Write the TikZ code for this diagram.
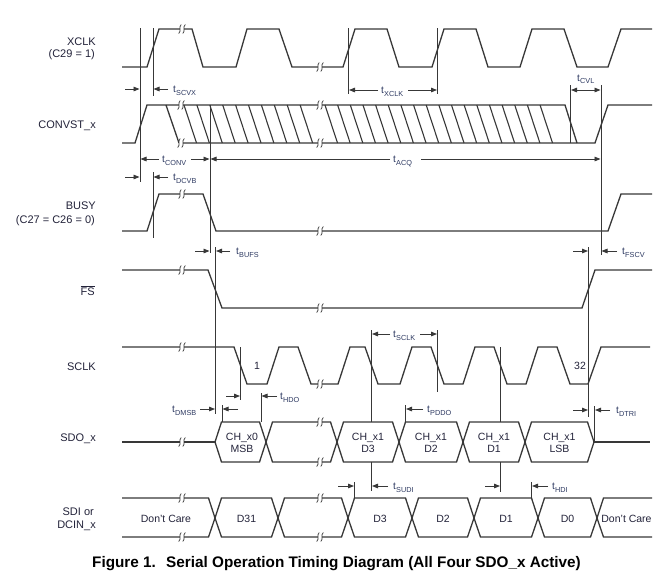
\documentclass[tikz,border=0pt]{standalone}
\usepackage{fontspec}
\setmainfont{Liberation Sans}
\usetikzlibrary{arrows.meta}
\definecolor{wave}{HTML}{383838}
\definecolor{txt}{HTML}{23233A}
\definecolor{tlab}{HTML}{2E3A62}
\tikzset{
 wf/.style={draw=wave, line width=1.3pt, line join=miter},
 hatch/.style={draw=wave, line width=1.1pt},
 guide/.style={draw=wave, line width=0.9pt},
 dim/.style={draw=wave, line width=0.8pt},
 ar/.style={dim, -{Triangle[length=6pt,width=4.6pt]}},
 sig/.style={text=txt, font=\fontsize{11}{13}\selectfont, inner sep=0pt, anchor=base east},
 celltxt/.style={text=txt, font=\fontsize{10.5}{12.5}\selectfont, inner sep=0pt, anchor=base},
 tlb/.style={text=tlab, font=\fontsize{10}{12}\selectfont, inner sep=0pt, anchor=base west},
 brkline/.style={draw=wave, line width=0.7pt},
}
\newcommand\tsub[1]{t\kern0.2pt\raisebox{-2.6pt}{\fontsize{7.3}{8}\selectfont #1}}
\newcommand\brkm[2]{%
 \fill[white] (#1-1.6,#2-3.6) rectangle (#1+1.6,#2+3.6);
 \draw[brkline] (#1-3.3,#2+4.5) .. controls (#1-0.4,#2+2) and (#1-3.6,#2-2) .. (#1-0.8,#2-4.5);
 \draw[brkline] (#1+0.8,#2+4.5) .. controls (#1+3.6,#2+2) and (#1+0.4,#2-2) .. (#1+3.3,#2-4.5);
}
\newcommand\hexcell[5]{\draw[wf] (#1,#4) -- (#1+6.5,#3) -- (#2-6.5,#3) -- (#2,#4) -- (#2-6.5,#5) -- (#1+6.5,#5) -- cycle;}
\begin{document}
\begin{tikzpicture}[x=1pt,y=-1pt]
\useasboundingbox (0,0) rectangle (667,582);
\fill[white] (0,0) rectangle (667,582);

% ---------- signal names
\node[sig] (lxclk) at (96,45.5) {XCLK};
\node[sig] (lc29) at (95,57.5) {(C29 = 1)};
\node[sig] (lconv) at (96,128) {CONVST\_x};
\node[sig] (lbusy) at (96,209) {BUSY};
\node[sig] (lc27) at (95,223) {(C27 = C26 = 0)};
\node[sig] (lfs) at (95,295) {$\overline{\mbox{FS}}$};
\node[sig] (lsclk) at (96,370) {SCLK};
\node[sig] (lsdo) at (96,441) {SDO\_x};
\node[sig] (lsdi1) at (94,515) {SDI or};
\node[sig] (lsdi2) at (96,528) {DCIN\_x};

% ---------- XCLK
\draw[wf] (122,67) -- (147,67) -- (159,29) -- (192,29) -- (203,67) -- (236,67) -- (247,29) -- (279,29) -- (292,67) -- (343,67) -- (355,29) -- (387,29) -- (399,67) -- (432,67) -- (444,29) -- (476,29) -- (488,67) -- (520,67) -- (532,29) -- (564,29) -- (577,67) -- (608,67) -- (621,29) -- (652,29);

% ---------- CONVST_x
\draw[wf] (122,143) -- (135,143) -- (147,105) -- (565,105) -- (577,143);
\draw[wf] (166,105) -- (179,143);
\draw[wf] (180,143) -- (595,143) -- (608,105) -- (652,105);
\foreach \k in {0,...,9} {\draw[hatch] ({184+12.9*\k},105) -- ({196.5+12.9*\k},143);}
\foreach \k in {0,...,17} {\draw[hatch] ({325+12.65*\k},105) -- ({337.5+12.65*\k},143);}

% ---------- BUSY
\draw[wf] (122,231) -- (147,231) -- (159,194) -- (203,194) -- (216,231) -- (608,231) -- (621,194) -- (652,194);

% ---------- FS
\draw[wf] (122,270) -- (208,270) -- (222,308) -- (582,308) -- (595,270) -- (652,270);

% ---------- SCLK
\draw[wf] (122,347) -- (234,347) -- (247,384) -- (267,384) -- (279,347) -- (298,347) -- (311,384) -- (338,384) -- (350,347) -- (365,347) -- (378,384) -- (400,384) -- (412,347) -- (431,347) -- (444,384) -- (463,384) -- (475,347) -- (494,347) -- (507,384) -- (526,384) -- (538,347) -- (557,347) -- (570,384) -- (588,384) -- (601,347) -- (650,347);
\node[celltxt] (n1) at (257,369) {1};
\node[celltxt] (n32) at (580,369) {32};

% ---------- SDO_x
\draw[wf] (122,442) -- (215,442);
\hexcell{215}{266}{422}{442}{462}
\hexcell{266}{337}{422}{442}{462}
\hexcell{337}{399}{422}{442}{462}
\hexcell{399}{463}{422}{442}{462}
\hexcell{463}{525}{422}{442}{462}
\hexcell{525}{594}{422}{442}{462}
\draw[wf] (594,442) -- (650,442);
\node[celltxt] (s0a) at (242,440.5) {CH\_x0};
\node[celltxt] (s0b) at (242,452.7) {MSB};
\node[celltxt] (s1a) at (368,440.5) {CH\_x1};
\node[celltxt] (s1b) at (368,452.7) {D3};
\node[celltxt] (s2a) at (431,440.5) {CH\_x1};
\node[celltxt] (s2b) at (431,452.7) {D2};
\node[celltxt] (s3a) at (494,440.5) {CH\_x1};
\node[celltxt] (s3b) at (494,452.7) {D1};
\node[celltxt] (s4a) at (559.5,440.5) {CH\_x1};
\node[celltxt] (s4b) at (559.5,452.7) {LSB};

% ---------- SDI / DCIN_x
\draw[wf] (122,498) -- (208.5,498) -- (215,518) -- (208.5,537) -- (122,537);
\hexcell{215}{278}{498}{518}{537}
\hexcell{278}{348}{498}{518}{537}
\hexcell{348}{412}{498}{518}{537}
\hexcell{412}{474}{498}{518}{537}
\hexcell{474}{538}{498}{518}{537}
\hexcell{538}{597}{498}{518}{537}
\draw[wf] (652,498) -- (603.5,498) -- (597,518) -- (603.5,537) -- (652,537);
\node[celltxt] (d0) at (166,522) {Don't Care};
\node[celltxt] (d1) at (246.5,522) {D31};
\node[celltxt] (d2) at (380,522) {D3};
\node[celltxt] (d3) at (443,522) {D2};
\node[celltxt] (d4) at (506,522) {D1};
\node[celltxt] (d5) at (567.5,522) {D0};
\node[celltxt] (d6) at (626.5,522) {Don't Care};

% ---------- break marks
\brkm{182}{29} \brkm{320}{67}
\brkm{181}{105} \brkm{181}{143} \brkm{320}{105} \brkm{320}{143}
\brkm{182}{194} \brkm{320}{231}
\brkm{182}{270} \brkm{320}{308}
\brkm{182}{347} \brkm{320}{384}
\brkm{182}{442} \brkm{320}{422} \brkm{320}{462}
\brkm{182}{498} \brkm{182}{537} \brkm{320}{498} \brkm{320}{537}

% ---------- guide lines
\draw[guide] (140,28) -- (140,182);
\draw[guide] (153,28) -- (153,96);
\draw[guide] (153,172) -- (153,238);
\draw[guide] (210,105) -- (210,253);
\draw[guide] (215.5,247) -- (215.5,414);
\draw[guide] (348.5,28) -- (348.5,94);
\draw[guide] (437.5,28) -- (437.5,94);
\draw[guide] (570.5,85) -- (570.5,143);
\draw[guide] (601,85) -- (601,255);
\draw[guide] (588.5,247) -- (588.5,417);
\draw[guide] (240.5,347) -- (240.5,400);
\draw[guide] (261,393) -- (261,422);
\draw[guide] (222,405) -- (222,422);
\draw[guide] (371.5,330) -- (371.5,422);
\draw[guide] (371.5,462) -- (371.5,491);
\draw[guide] (437.5,330) -- (437.5,392);
\draw[guide] (500.5,347) -- (500.5,422);
\draw[guide] (500.5,462) -- (500.5,492);
\draw[guide] (405.5,405) -- (405.5,422);
\draw[guide] (594.5,406) -- (594.5,442);
\draw[guide] (354.5,482) -- (354.5,498);
\draw[guide] (531.5,482) -- (531.5,498);

% ---------- timing arrows and labels
\draw[ar] (125,89) -- (139.5,89); \draw[ar] (168,89) -- (153.5,89);
\node[tlb] (tscvx) at (173,92.5) {\tsub{SCVX}};
\draw[ar] (378,90) -- (349,90); \draw[ar] (408,90) -- (437,90);
\node[tlb] (txclk) at (381,93.5) {\tsub{XCLK}};
\draw[ar] (585.5,90) -- (571,90); \draw[ar] (585.5,90) -- (600.5,90);
\node[tlb] (tcvl) at (577,81) {\tsub{CVL}};
\draw[ar] (159,159) -- (140.5,159); \draw[ar] (191,159) -- (209.5,159);
\node[tlb] (tconv) at (162,162.5) {\tsub{CONV}};
\draw[ar] (390,159) -- (210.5,159); \draw[ar] (421,159) -- (600.5,159);
\node[tlb] (tacq) at (393,162.5) {\tsub{ACQ}};
\draw[ar] (125,177) -- (139.5,177); \draw[ar] (168,177) -- (153.5,177);
\node[tlb] (tdcvb) at (173,180.5) {\tsub{DCVB}};
\draw[ar] (195,251) -- (209.5,251); \draw[ar] (230,251) -- (216,251);
\node[tlb] (tbufs) at (236,254.5) {\tsub{BUFS}};
\draw[ar] (573,251) -- (588,251); \draw[ar] (617,251) -- (601.5,251);
\node[tlb] (tfscv) at (622,254.5) {\tsub{FSCV}};
\draw[ar] (390,334) -- (372,334); \draw[ar] (420,334) -- (437,334);
\node[tlb] (tsclk) at (393,337.5) {\tsub{SCLK}};
\draw[ar] (226,396) -- (240,396); \draw[ar] (277,396) -- (261.5,396);
\node[tlb] (thdo) at (280,399.5) {\tsub{HDO}};
\node[tlb] (tdmsb) at (172,412.5) {\tsub{DMSB}};
\draw[ar] (200,409) -- (215,409); \draw[ar] (238,409) -- (222.5,409);
\draw[ar] (423,409) -- (406,409);
\node[tlb] (tpddo) at (427,412.5) {\tsub{PDDO}};
\draw[ar] (573,410) -- (588,410); \draw[ar] (610,410) -- (595,410);
\node[tlb] (tdtri) at (616,413.5) {\tsub{DTRI}};
\draw[ar] (338,486) -- (354,486); \draw[ar] (388,486) -- (372,486);
\node[tlb] (tsudi) at (393,489.5) {\tsub{SUDI}};
\draw[ar] (485,486) -- (500,486); \draw[ar] (548,486) -- (532,486);
\node[tlb] (thdi) at (552,489.5) {\tsub{HDI}};

% ---------- caption
\node[anchor=base west, inner sep=0pt, text=black, font=\bfseries\fontsize{15.3}{18}\selectfont] (cap) at (92,567.5) {Figure 1.\hspace{0.3em} Serial Operation Timing Diagram (All Four SDO\_x Active)};
\end{tikzpicture}
\end{document}
